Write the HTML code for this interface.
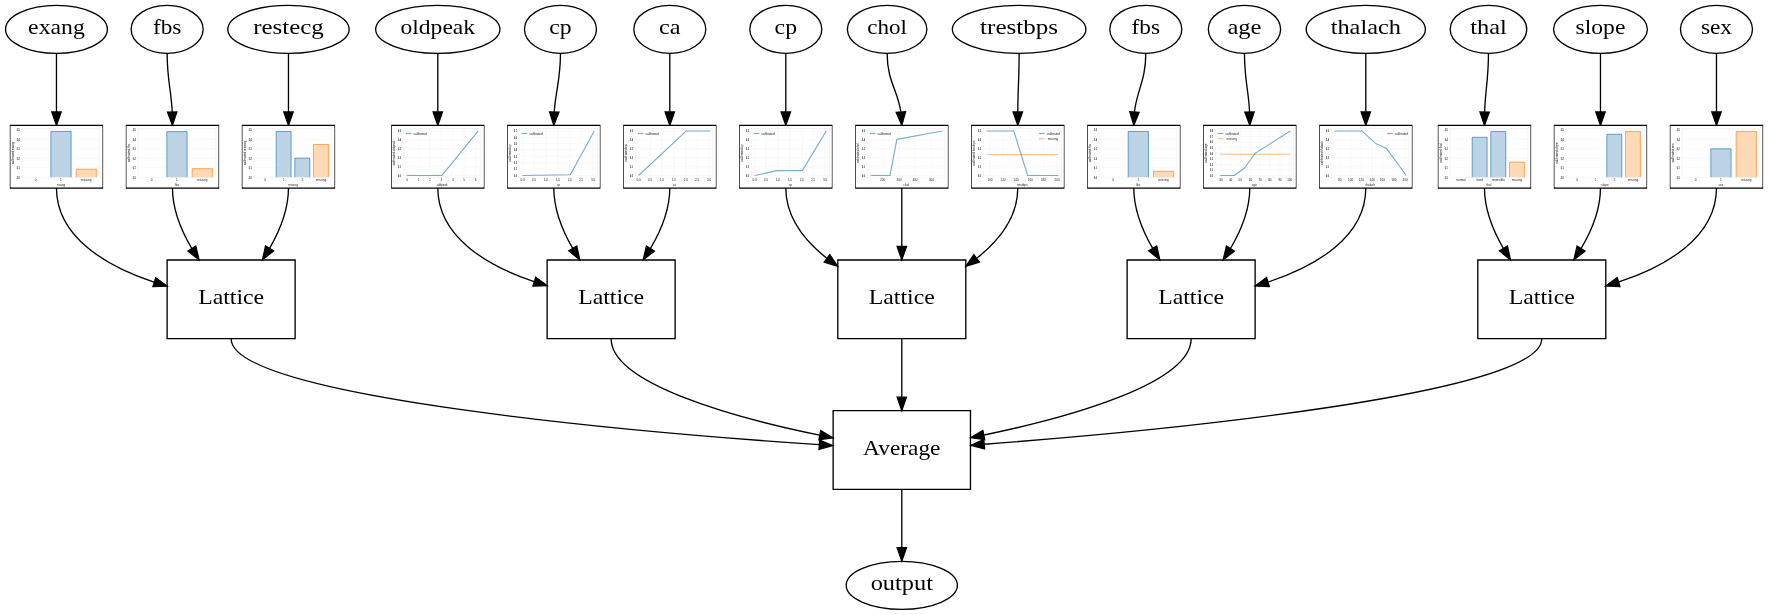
<!DOCTYPE html>
<html><head><meta charset="utf-8"><style>
html,body{margin:0;padding:0;background:#fff;}
body{width:1768px;height:615px;overflow:hidden;}
svg{display:block;will-change:transform;}
.s{fill:none;stroke:#000;stroke-width:1;}
.a{fill:#000;stroke:#000;stroke-width:1;}
g.lbl text{font-family:"Liberation Serif",serif;font-size:15.2px;text-anchor:middle;fill:#000;}
.ct text{font-family:"Liberation Sans",sans-serif;fill:#222;}
</style></head><body>
<svg width="1768" height="615" viewBox="0 0 1326 461.25">
<rect x="0" y="0" width="1326" height="461.25" fill="#fff"/>
<g transform="translate(4 457)">
<g class="lbl"><polygon points="723.85,-149 620.85,-149 620.85,-90 723.85,-90 723.85,-149" class="s"/>
<text x="672.35" y="-115.750" textLength="58.02" lengthAdjust="spacingAndGlyphs">Average</text>
<ellipse cx="672.35" cy="-18" rx="41.69" ry="18" class="s"/>
<text x="672.35" y="-14.500" textLength="46.68" lengthAdjust="spacingAndGlyphs">output</text>
<path d="M672.35,-90C672.35,-75.65 672.35,-59.67 672.35,-46.51" class="s"/>
<polygon points="675.85,-46.22 672.35,-36.22 668.85,-46.22 675.85,-46.22" class="a"/>
<polygon points="217.35,-262 121.35,-262 121.35,-203 217.35,-203 217.35,-262" class="s"/>
<text x="169.35" y="-229.000" textLength="49.50" lengthAdjust="spacingAndGlyphs">Lattice</text>
<path d="M169.35,-203.00C169.35,-158.88 476.12,-132.58 610.38,-123.50" class="s"/>
<polygon points="610.77,-126.99 620.51,-122.83 610.30,-120.00 610.77,-126.99" class="a"/>
<polygon points="502.35,-262 406.35,-262 406.35,-203 502.35,-203 502.35,-262" class="s"/>
<text x="454.35" y="-229.000" textLength="49.50" lengthAdjust="spacingAndGlyphs">Lattice</text>
<path d="M454.35,-203.00C454.35,-169.39 546.13,-143.86 610.59,-130.64" class="s"/>
<polygon points="611.57,-134.01 620.68,-128.62 610.19,-127.15 611.57,-134.01" class="a"/>
<polygon points="720.35,-262 624.35,-262 624.35,-203 720.35,-203 720.35,-262" class="s"/>
<text x="672.35" y="-229.000" textLength="49.50" lengthAdjust="spacingAndGlyphs">Lattice</text>
<path d="M672.35,-203C672.35,-188.73 672.35,-173.08 672.35,-159.28" class="s"/>
<polygon points="675.85,-159.14 672.35,-149.14 668.85,-159.14 675.85,-159.14" class="a"/>
<polygon points="937.35,-262 841.35,-262 841.35,-203 937.35,-203 937.35,-262" class="s"/>
<text x="889.35" y="-229.000" textLength="49.50" lengthAdjust="spacingAndGlyphs">Lattice</text>
<path d="M889.35,-203.00C889.35,-169.57 798.24,-144.03 734.09,-130.75" class="s"/>
<polygon points="734.54,-127.27 724.05,-128.71 733.16,-134.13 734.54,-127.27" class="a"/>
<polygon points="1200.35,-262 1104.35,-262 1104.35,-203 1200.35,-203 1200.35,-262" class="s"/>
<text x="1152.35" y="-229.000" textLength="49.50" lengthAdjust="spacingAndGlyphs">Lattice</text>
<path d="M1152.35,-203.00C1152.35,-161.07 864.11,-133.63 734.36,-123.83" class="s"/>
<polygon points="734.40,-120.33 724.17,-123.07 733.88,-127.31 734.40,-120.33" class="a"/>
<polygon points="72.85,-363 3.85,-363 3.85,-316 72.85,-316 72.85,-363" class="s"/>
<path d="M38.35,-316.00C38.35,-278.90 76.43,-256.98 111.52,-245.43" class="s"/>
<polygon points="112.78,-248.70 121.31,-242.42 110.72,-242.01 112.78,-248.70" class="a"/>
<ellipse cx="38.35" cy="-435" rx="38.19" ry="18" class="s"/>
<text x="38.35" y="-431.500" textLength="42.51" lengthAdjust="spacingAndGlyphs">exang</text>
<path d="M38.35,-417C38.35,-396.75 38.35,-389.31 38.35,-373.07" class="s"/>
<polygon points="41.85,-373 38.35,-363 34.85,-373 41.85,-373" class="a"/>
<polygon points="159.85,-363 90.85,-363 90.85,-316 159.85,-316 159.85,-363" class="s"/>
<path d="M125.35,-316C125.35,-300.02 131.85,-284.13 139.86,-270.63" class="s"/>
<polygon points="142.86,-272.43 145.29,-262.12 136.96,-268.67 142.86,-272.43" class="a"/>
<ellipse cx="121.35" cy="-435" rx="27" ry="18" class="s"/>
<text x="121.35" y="-431.500" textLength="21.33" lengthAdjust="spacingAndGlyphs">fbs</text>
<path d="M121.35,-417C121.35,-396.72 124.48,-389.33 125.15,-373.08" class="s"/>
<polygon points="128.65,-373.07 125.35,-363 121.65,-372.93 128.65,-373.07" class="a"/>
<polygon points="246.85,-363 177.85,-363 177.85,-316 246.85,-316 246.85,-363" class="s"/>
<path d="M212.35,-316C212.35,-300.1 205.99,-284.23 198.16,-270.72" class="s"/>
<polygon points="201.12,-268.84 192.86,-262.2 195.17,-272.54 201.12,-268.84" class="a"/>
<ellipse cx="212.35" cy="-435" rx="45.49" ry="18" class="s"/>
<text x="212.35" y="-431.500" textLength="52.88" lengthAdjust="spacingAndGlyphs">restecg</text>
<path d="M212.35,-417C212.35,-396.75 212.35,-389.31 212.35,-373.07" class="s"/>
<polygon points="215.85,-373 212.35,-363 208.85,-373 215.85,-373" class="a"/>
<polygon points="358.85,-363 289.85,-363 289.85,-316 358.85,-316 358.85,-363" class="s"/>
<path d="M324.35,-316.00C324.35,-279.23 361.89,-257.40 396.62,-245.77" class="s"/>
<polygon points="397.81,-249.07 406.31,-242.74 395.72,-242.39 397.81,-249.07" class="a"/>
<ellipse cx="324.35" cy="-435" rx="46.59" ry="18" class="s"/>
<text x="324.35" y="-431.500" textLength="55.95" lengthAdjust="spacingAndGlyphs">oldpeak</text>
<path d="M324.35,-417C324.35,-396.75 324.35,-389.31 324.35,-373.07" class="s"/>
<polygon points="327.85,-373 324.35,-363 320.85,-373 327.85,-373" class="a"/>
<polygon points="445.85,-363 376.85,-363 376.85,-316 445.85,-316 445.85,-363" class="s"/>
<path d="M411.35,-316C411.35,-300.1 417.7,-284.23 425.53,-270.72" class="s"/>
<polygon points="428.52,-272.54 430.83,-262.2 422.58,-268.84 428.52,-272.54" class="a"/>
<ellipse cx="416.35" cy="-435" rx="27" ry="18" class="s"/>
<text x="416.35" y="-431.500" textLength="16.80" lengthAdjust="spacingAndGlyphs">cp</text>
<path d="M416.35,-417C416.35,-396.66 412.79,-389.36 411.67,-373.1" class="s"/>
<polygon points="415.17,-372.88 411.35,-363 408.17,-373.11 415.17,-372.88" class="a"/>
<polygon points="532.85,-363 463.85,-363 463.85,-316 532.85,-316 532.85,-363" class="s"/>
<path d="M498.35,-316C498.35,-300.02 491.84,-284.13 483.83,-270.63" class="s"/>
<polygon points="486.73,-268.67 478.41,-262.12 480.83,-272.43 486.73,-268.67" class="a"/>
<ellipse cx="498.35" cy="-435" rx="27" ry="18" class="s"/>
<text x="498.35" y="-431.500" textLength="16.19" lengthAdjust="spacingAndGlyphs">ca</text>
<path d="M498.35,-417C498.35,-396.75 498.35,-389.31 498.35,-373.07" class="s"/>
<polygon points="501.85,-373 498.35,-363 494.85,-373 501.85,-373" class="a"/>
<polygon points="619.85,-363 550.85,-363 550.85,-316 619.85,-316 619.85,-363" class="s"/>
<path d="M585.35,-316.00C585.35,-294.71 599.23,-276.72 615.90,-263.44" class="s"/>
<polygon points="618.31,-266.02 624.27,-257.26 614.14,-260.39 618.31,-266.02" class="a"/>
<ellipse cx="585.35" cy="-435" rx="27" ry="18" class="s"/>
<text x="585.35" y="-431.500" textLength="16.80" lengthAdjust="spacingAndGlyphs">cp</text>
<path d="M585.35,-417C585.35,-396.75 585.35,-389.31 585.35,-373.07" class="s"/>
<polygon points="588.85,-373 585.35,-363 581.85,-373 588.85,-373" class="a"/>
<polygon points="706.85,-363 637.85,-363 637.85,-316 706.85,-316 706.85,-363" class="s"/>
<path d="M672.35,-316C672.35,-301.73 672.35,-286.08 672.35,-272.28" class="s"/>
<polygon points="675.85,-272.14 672.35,-262.14 668.85,-272.14 675.85,-272.14" class="a"/>
<ellipse cx="661.35" cy="-435" rx="29.8" ry="18" class="s"/>
<text x="661.35" y="-431.500" textLength="29.76" lengthAdjust="spacingAndGlyphs">chol</text>
<path d="M661.35,-417C661.35,-396.33 669.18,-389.54 671.62,-373.2" class="s"/>
<polygon points="675.13,-373.22 672.35,-363 668.15,-372.73 675.13,-373.22" class="a"/>
<polygon points="793.85,-363 724.85,-363 724.85,-316 793.85,-316 793.85,-363" class="s"/>
<path d="M759.35,-316.00C759.35,-294.71 745.46,-276.72 728.79,-263.44" class="s"/>
<polygon points="730.55,-260.39 720.43,-257.26 726.39,-266.02 730.55,-260.39" class="a"/>
<ellipse cx="760.35" cy="-435" rx="50.09" ry="18" class="s"/>
<text x="760.35" y="-431.500" textLength="58.52" lengthAdjust="spacingAndGlyphs">trestbps</text>
<path d="M760.35,-417.00C760.35,-396.75 759.35,-389.31 759.35,-373.07" class="s"/>
<polygon points="762.85,-373 759.35,-363 755.85,-373 762.85,-373" class="a"/>
<polygon points="880.85,-363 811.85,-363 811.85,-316 880.85,-316 880.85,-363" class="s"/>
<path d="M846.35,-316C846.35,-300.1 852.7,-284.23 860.53,-270.72" class="s"/>
<polygon points="863.52,-272.54 865.83,-262.2 857.58,-268.84 863.52,-272.54" class="a"/>
<ellipse cx="855.35" cy="-435" rx="27" ry="18" class="s"/>
<text x="855.35" y="-431.500" textLength="21.33" lengthAdjust="spacingAndGlyphs">fbs</text>
<path d="M855.35,-417.00C855.35,-396.53 848.65,-389.43 846.87,-373.14" class="s"/>
<polygon points="850.36,-372.81 846.35,-363 843.37,-373.17 850.36,-372.81" class="a"/>
<polygon points="967.85,-363 898.85,-363 898.85,-316 967.85,-316 967.85,-363" class="s"/>
<path d="M933.35,-316C933.35,-300.02 926.84,-284.13 918.83,-270.63" class="s"/>
<polygon points="921.73,-268.67 913.41,-262.12 915.83,-272.43 921.73,-268.67" class="a"/>
<ellipse cx="929.35" cy="-435" rx="27.1" ry="18" class="s"/>
<text x="929.35" y="-431.500" textLength="25.59" lengthAdjust="spacingAndGlyphs">age</text>
<path d="M929.35,-417.00C929.35,-396.72 932.48,-389.33 933.15,-373.08" class="s"/>
<polygon points="936.65,-373.07 933.35,-363 929.65,-372.93 936.65,-373.07" class="a"/>
<polygon points="1054.85,-363 985.85,-363 985.85,-316 1054.85,-316 1054.85,-363" class="s"/>
<path d="M1020.35,-316.00C1020.35,-278.90 982.27,-257.08 947.17,-245.53" class="s"/>
<polygon points="947.97,-242.11 937.38,-242.52 945.91,-248.80 947.97,-242.11" class="a"/>
<ellipse cx="1020.35" cy="-435" rx="44.69" ry="18" class="s"/>
<text x="1020.35" y="-431.500" textLength="52.67" lengthAdjust="spacingAndGlyphs">thalach</text>
<path d="M1020.35,-417C1020.35,-396.75 1020.35,-389.31 1020.35,-373.07" class="s"/>
<polygon points="1023.85,-373 1020.35,-363 1016.85,-373 1023.85,-373" class="a"/>
<polygon points="1143.85,-363 1074.85,-363 1074.85,-316 1143.85,-316 1143.85,-363" class="s"/>
<path d="M1109.35,-316C1109.35,-300.1 1115.7,-284.23 1123.53,-270.72" class="s"/>
<polygon points="1126.52,-272.54 1128.83,-262.2 1120.58,-268.84 1126.52,-272.54" class="a"/>
<ellipse cx="1112.35" cy="-435" rx="28.7" ry="18" class="s"/>
<text x="1112.35" y="-431.500" textLength="27.47" lengthAdjust="spacingAndGlyphs">thal</text>
<path d="M1112.35,-417.00C1112.35,-396.74 1109.92,-389.32 1109.48,-373.07" class="s"/>
<polygon points="1112.98,-372.95 1109.35,-363 1105.98,-373.04 1112.98,-372.95" class="a"/>
<polygon points="1230.85,-363 1161.85,-363 1161.85,-316 1230.85,-316 1230.85,-363" class="s"/>
<path d="M1196.35,-316C1196.35,-300.02 1189.84,-284.13 1181.83,-270.63" class="s"/>
<polygon points="1184.73,-268.67 1176.41,-262.12 1178.83,-272.43 1184.73,-268.67" class="a"/>
<ellipse cx="1196.35" cy="-435" rx="35.19" ry="18" class="s"/>
<text x="1196.35" y="-431.500" textLength="37.34" lengthAdjust="spacingAndGlyphs">slope</text>
<path d="M1196.35,-417C1196.35,-396.75 1196.35,-389.31 1196.35,-373.07" class="s"/>
<polygon points="1199.85,-373 1196.35,-363 1192.85,-373 1199.85,-373" class="a"/>
<polygon points="1317.85,-363 1248.85,-363 1248.85,-316 1317.85,-316 1317.85,-363" class="s"/>
<path d="M1283.35,-316.00C1283.35,-278.90 1245.27,-257.08 1210.17,-245.53" class="s"/>
<polygon points="1210.97,-242.11 1200.38,-242.52 1208.91,-248.80 1210.97,-242.11" class="a"/>
<ellipse cx="1283.35" cy="-435" rx="27" ry="18" class="s"/>
<text x="1283.35" y="-431.500" textLength="23.37" lengthAdjust="spacingAndGlyphs">sex</text>
<path d="M1283.35,-417C1283.35,-396.75 1283.35,-389.31 1283.35,-373.07" class="s"/>
<polygon points="1286.85,-373 1283.35,-363 1279.85,-373 1286.85,-373" class="a"/></g>
<g transform="translate(3.85 -363.00) scale(0.76667)"><g class="ct"><rect x="0.000" y="0.652" width="90.000" height="60.000" fill="#fff"/><rect x="11.30" y="3.10" width="76.20" height="47.70" fill="none" stroke="#f3f3f3" stroke-width="0.8"/><text transform="translate(9.00 52.30) scale(0.062 0.100)" font-size="33.0" text-anchor="end" font-weight="bold">0.0</text><line x1="11.30" x2="87.50" y1="41.50" y2="41.50" stroke="#f6f6f6" stroke-width="0.6"/><text transform="translate(9.00 43.00) scale(0.062 0.100)" font-size="33.0" text-anchor="end" font-weight="bold">0.1</text><line x1="11.30" x2="87.50" y1="32.20" y2="32.20" stroke="#f6f6f6" stroke-width="0.6"/><text transform="translate(9.00 33.70) scale(0.062 0.100)" font-size="33.0" text-anchor="end" font-weight="bold">0.2</text><line x1="11.30" x2="87.50" y1="22.90" y2="22.90" stroke="#f6f6f6" stroke-width="0.6"/><text transform="translate(9.00 24.40) scale(0.062 0.100)" font-size="33.0" text-anchor="end" font-weight="bold">0.3</text><line x1="11.30" x2="87.50" y1="13.60" y2="13.60" stroke="#f6f6f6" stroke-width="0.6"/><text transform="translate(9.00 15.10) scale(0.062 0.100)" font-size="33.0" text-anchor="end" font-weight="bold">0.4</text><line x1="11.30" x2="87.50" y1="4.30" y2="4.30" stroke="#f6f6f6" stroke-width="0.6"/><text transform="translate(9.00 5.80) scale(0.062 0.100)" font-size="33.0" text-anchor="end" font-weight="bold">0.5</text><text transform="translate(24.66 54.80) scale(0.100 0.100)" font-size="30.0" text-anchor="middle">0</text><text transform="translate(49.40 54.80) scale(0.100 0.100)" font-size="30.0" text-anchor="middle">1</text><rect x="39.50" y="5.95" width="19.79" height="44.85" fill="#bdd4e7"/><path d="M39.50,50.80 L39.50,5.95 L59.30,5.95 L59.30,50.80" fill="none" stroke="#1f77b4" stroke-width="0.8" stroke-opacity="0.8"/><text transform="translate(74.14 54.80) scale(0.100 0.100)" font-size="30.0" text-anchor="middle">missing</text><rect x="64.24" y="42.91" width="19.79" height="7.89" fill="#fdd9b6"/><path d="M64.24,50.80 L64.24,42.91 L84.04,42.91 L84.04,50.80" fill="none" stroke="#ff7f0e" stroke-width="0.8" stroke-opacity="0.8"/><text transform="translate(49.40 59.60) scale(0.100 0.100)" font-size="30.0" text-anchor="middle">exang</text><text transform="translate(3.30 27.00) rotate(-90) scale(0.100 0.100)" font-size="30.0" text-anchor="middle">calibrated exang</text></g></g>
<g transform="translate(90.85 -363.00) scale(0.76667)"><g class="ct"><rect x="0.000" y="0.652" width="90.000" height="60.000" fill="#fff"/><rect x="11.30" y="3.10" width="76.20" height="47.70" fill="none" stroke="#f3f3f3" stroke-width="0.8"/><text transform="translate(9.00 52.30) scale(0.062 0.100)" font-size="33.0" text-anchor="end" font-weight="bold">0.0</text><line x1="11.30" x2="87.50" y1="41.50" y2="41.50" stroke="#f6f6f6" stroke-width="0.6"/><text transform="translate(9.00 43.00) scale(0.062 0.100)" font-size="33.0" text-anchor="end" font-weight="bold">0.1</text><line x1="11.30" x2="87.50" y1="32.20" y2="32.20" stroke="#f6f6f6" stroke-width="0.6"/><text transform="translate(9.00 33.70) scale(0.062 0.100)" font-size="33.0" text-anchor="end" font-weight="bold">0.2</text><line x1="11.30" x2="87.50" y1="22.90" y2="22.90" stroke="#f6f6f6" stroke-width="0.6"/><text transform="translate(9.00 24.40) scale(0.062 0.100)" font-size="33.0" text-anchor="end" font-weight="bold">0.3</text><line x1="11.30" x2="87.50" y1="13.60" y2="13.60" stroke="#f6f6f6" stroke-width="0.6"/><text transform="translate(9.00 15.10) scale(0.062 0.100)" font-size="33.0" text-anchor="end" font-weight="bold">0.4</text><line x1="11.30" x2="87.50" y1="4.30" y2="4.30" stroke="#f6f6f6" stroke-width="0.6"/><text transform="translate(9.00 5.80) scale(0.062 0.100)" font-size="33.0" text-anchor="end" font-weight="bold">0.5</text><text transform="translate(24.66 54.80) scale(0.100 0.100)" font-size="30.0" text-anchor="middle">0</text><text transform="translate(49.40 54.80) scale(0.100 0.100)" font-size="30.0" text-anchor="middle">1</text><rect x="39.50" y="6.17" width="19.79" height="44.63" fill="#bdd4e7"/><path d="M39.50,50.80 L39.50,6.17 L59.30,6.17 L59.30,50.80" fill="none" stroke="#1f77b4" stroke-width="0.8" stroke-opacity="0.8"/><text transform="translate(74.14 54.80) scale(0.100 0.100)" font-size="30.0" text-anchor="middle">missing</text><rect x="64.24" y="42.41" width="19.79" height="8.39" fill="#fdd9b6"/><path d="M64.24,50.80 L64.24,42.41 L84.04,42.41 L84.04,50.80" fill="none" stroke="#ff7f0e" stroke-width="0.8" stroke-opacity="0.8"/><text transform="translate(49.40 59.60) scale(0.100 0.100)" font-size="30.0" text-anchor="middle">fbs</text><text transform="translate(3.30 27.00) rotate(-90) scale(0.100 0.100)" font-size="30.0" text-anchor="middle">calibrated fbs</text></g></g>
<g transform="translate(177.85 -363.00) scale(0.76667)"><g class="ct"><rect x="0.000" y="0.652" width="90.000" height="60.000" fill="#fff"/><rect x="11.30" y="3.10" width="76.20" height="47.70" fill="none" stroke="#f3f3f3" stroke-width="0.8"/><text transform="translate(9.00 52.30) scale(0.062 0.100)" font-size="33.0" text-anchor="end" font-weight="bold">0.0</text><line x1="11.30" x2="87.50" y1="41.50" y2="41.50" stroke="#f6f6f6" stroke-width="0.6"/><text transform="translate(9.00 43.00) scale(0.062 0.100)" font-size="33.0" text-anchor="end" font-weight="bold">0.1</text><line x1="11.30" x2="87.50" y1="32.20" y2="32.20" stroke="#f6f6f6" stroke-width="0.6"/><text transform="translate(9.00 33.70) scale(0.062 0.100)" font-size="33.0" text-anchor="end" font-weight="bold">0.2</text><line x1="11.30" x2="87.50" y1="22.90" y2="22.90" stroke="#f6f6f6" stroke-width="0.6"/><text transform="translate(9.00 24.40) scale(0.062 0.100)" font-size="33.0" text-anchor="end" font-weight="bold">0.3</text><line x1="11.30" x2="87.50" y1="13.60" y2="13.60" stroke="#f6f6f6" stroke-width="0.6"/><text transform="translate(9.00 15.10) scale(0.062 0.100)" font-size="33.0" text-anchor="end" font-weight="bold">0.4</text><line x1="11.30" x2="87.50" y1="4.30" y2="4.30" stroke="#f6f6f6" stroke-width="0.6"/><text transform="translate(9.00 5.80) scale(0.062 0.100)" font-size="33.0" text-anchor="end" font-weight="bold">0.5</text><text transform="translate(22.06 54.80) scale(0.100 0.100)" font-size="30.0" text-anchor="middle">0</text><text transform="translate(40.29 54.80) scale(0.100 0.100)" font-size="30.0" text-anchor="middle">1</text><rect x="32.99" y="5.95" width="14.58" height="44.85" fill="#bdd4e7"/><path d="M32.99,50.80 L32.99,5.95 L47.58,5.95 L47.58,50.80" fill="none" stroke="#1f77b4" stroke-width="0.8" stroke-opacity="0.8"/><text transform="translate(58.51 54.80) scale(0.100 0.100)" font-size="30.0" text-anchor="middle">2</text><rect x="51.22" y="32.10" width="14.58" height="18.70" fill="#bdd4e7"/><path d="M51.22,50.80 L51.22,32.10 L65.81,32.10 L65.81,50.80" fill="none" stroke="#1f77b4" stroke-width="0.8" stroke-opacity="0.8"/><text transform="translate(76.74 54.80) scale(0.100 0.100)" font-size="30.0" text-anchor="middle">missing</text><rect x="69.45" y="18.69" width="14.58" height="32.11" fill="#fdd9b6"/><path d="M69.45,50.80 L69.45,18.69 L84.04,18.69 L84.04,50.80" fill="none" stroke="#ff7f0e" stroke-width="0.8" stroke-opacity="0.8"/><text transform="translate(49.40 59.60) scale(0.100 0.100)" font-size="30.0" text-anchor="middle">restecg</text><text transform="translate(3.30 27.00) rotate(-90) scale(0.100 0.100)" font-size="30.0" text-anchor="middle">calibrated restecg</text></g></g>
<g transform="translate(289.85 -363.00) scale(0.76667)"><g class="ct"><rect x="0.000" y="0.652" width="90.000" height="60.000" fill="#fff"/><rect x="11.30" y="3.10" width="76.20" height="47.70" fill="none" stroke="#f3f3f3" stroke-width="0.8"/><line x1="15.00" x2="15.00" y1="3.10" y2="50.80" stroke="#f6f6f6" stroke-width="0.6"/><text transform="translate(15.00 54.80) scale(0.100 0.100)" font-size="30.0" text-anchor="middle">0</text><line x1="26.20" x2="26.20" y1="3.10" y2="50.80" stroke="#f6f6f6" stroke-width="0.6"/><text transform="translate(26.20 54.80) scale(0.100 0.100)" font-size="30.0" text-anchor="middle">1</text><line x1="37.30" x2="37.30" y1="3.10" y2="50.80" stroke="#f6f6f6" stroke-width="0.6"/><text transform="translate(37.30 54.80) scale(0.100 0.100)" font-size="30.0" text-anchor="middle">2</text><line x1="48.40" x2="48.40" y1="3.10" y2="50.80" stroke="#f6f6f6" stroke-width="0.6"/><text transform="translate(48.40 54.80) scale(0.100 0.100)" font-size="30.0" text-anchor="middle">3</text><line x1="59.60" x2="59.60" y1="3.10" y2="50.80" stroke="#f6f6f6" stroke-width="0.6"/><text transform="translate(59.60 54.80) scale(0.100 0.100)" font-size="30.0" text-anchor="middle">4</text><line x1="70.70" x2="70.70" y1="3.10" y2="50.80" stroke="#f6f6f6" stroke-width="0.6"/><text transform="translate(70.70 54.80) scale(0.100 0.100)" font-size="30.0" text-anchor="middle">5</text><line x1="81.85" x2="81.85" y1="3.10" y2="50.80" stroke="#f6f6f6" stroke-width="0.6"/><text transform="translate(81.85 54.80) scale(0.100 0.100)" font-size="30.0" text-anchor="middle">6</text><line x1="11.30" x2="87.50" y1="49.10" y2="49.10" stroke="#f6f6f6" stroke-width="0.6"/><text transform="translate(9.00 50.40) scale(0.062 0.100)" font-size="33.0" text-anchor="end" font-weight="bold">0.0</text><line x1="11.30" x2="87.50" y1="40.38" y2="40.38" stroke="#f6f6f6" stroke-width="0.6"/><text transform="translate(9.00 41.68) scale(0.062 0.100)" font-size="33.0" text-anchor="end" font-weight="bold">0.1</text><line x1="11.30" x2="87.50" y1="31.66" y2="31.66" stroke="#f6f6f6" stroke-width="0.6"/><text transform="translate(9.00 32.96) scale(0.062 0.100)" font-size="33.0" text-anchor="end" font-weight="bold">0.2</text><line x1="11.30" x2="87.50" y1="22.94" y2="22.94" stroke="#f6f6f6" stroke-width="0.6"/><text transform="translate(9.00 24.24) scale(0.062 0.100)" font-size="33.0" text-anchor="end" font-weight="bold">0.3</text><line x1="11.30" x2="87.50" y1="14.22" y2="14.22" stroke="#f6f6f6" stroke-width="0.6"/><text transform="translate(9.00 15.52) scale(0.062 0.100)" font-size="33.0" text-anchor="end" font-weight="bold">0.4</text><line x1="11.30" x2="87.50" y1="5.50" y2="5.50" stroke="#f6f6f6" stroke-width="0.6"/><text transform="translate(9.00 6.80) scale(0.062 0.100)" font-size="33.0" text-anchor="end" font-weight="bold">0.5</text><path d="M14.50,49.10 L48.85,49.10 L84.60,5.50" fill="none" stroke="#1f77b4" stroke-width="1.1" stroke-opacity="0.6" stroke-linejoin="round"/><line x1="13.60" x2="19.20" y1="8.0" y2="8.0" stroke="#1f77b4" stroke-width="1.1" stroke-opacity="0.6"/><text transform="translate(21.20 9.00) scale(0.100 0.100)" font-size="30.0" text-anchor="start">calibrated</text><text transform="translate(49.40 59.60) scale(0.100 0.100)" font-size="30.0" text-anchor="middle">oldpeak</text><text transform="translate(3.30 27.00) rotate(-90) scale(0.100 0.100)" font-size="30.0" text-anchor="middle">calibrated oldpeak</text></g></g>
<g transform="translate(376.85 -363.00) scale(0.76667)"><g class="ct"><rect x="0.000" y="0.652" width="90.000" height="60.000" fill="#fff"/><rect x="11.30" y="3.10" width="76.20" height="47.70" fill="none" stroke="#f3f3f3" stroke-width="0.8"/><line x1="14.50" x2="14.50" y1="3.10" y2="50.80" stroke="#f6f6f6" stroke-width="0.6"/><text transform="translate(14.50 54.80) scale(0.100 0.100)" font-size="30.0" text-anchor="middle">0.0</text><line x1="25.80" x2="25.80" y1="3.10" y2="50.80" stroke="#f6f6f6" stroke-width="0.6"/><text transform="translate(25.80 54.80) scale(0.100 0.100)" font-size="30.0" text-anchor="middle">0.5</text><line x1="37.30" x2="37.30" y1="3.10" y2="50.80" stroke="#f6f6f6" stroke-width="0.6"/><text transform="translate(37.30 54.80) scale(0.100 0.100)" font-size="30.0" text-anchor="middle">1.0</text><line x1="49.00" x2="49.00" y1="3.10" y2="50.80" stroke="#f6f6f6" stroke-width="0.6"/><text transform="translate(49.00 54.80) scale(0.100 0.100)" font-size="30.0" text-anchor="middle">1.5</text><line x1="60.70" x2="60.70" y1="3.10" y2="50.80" stroke="#f6f6f6" stroke-width="0.6"/><text transform="translate(60.70 54.80) scale(0.100 0.100)" font-size="30.0" text-anchor="middle">2.0</text><line x1="71.80" x2="71.80" y1="3.10" y2="50.80" stroke="#f6f6f6" stroke-width="0.6"/><text transform="translate(71.80 54.80) scale(0.100 0.100)" font-size="30.0" text-anchor="middle">2.5</text><line x1="83.50" x2="83.50" y1="3.10" y2="50.80" stroke="#f6f6f6" stroke-width="0.6"/><text transform="translate(83.50 54.80) scale(0.100 0.100)" font-size="30.0" text-anchor="middle">3.0</text><line x1="11.30" x2="87.50" y1="49.10" y2="49.10" stroke="#f6f6f6" stroke-width="0.6"/><text transform="translate(9.00 50.40) scale(0.062 0.100)" font-size="33.0" text-anchor="end" font-weight="bold">0.0</text><line x1="11.30" x2="87.50" y1="42.87" y2="42.87" stroke="#f6f6f6" stroke-width="0.6"/><text transform="translate(9.00 44.17) scale(0.062 0.100)" font-size="33.0" text-anchor="end" font-weight="bold">0.1</text><line x1="11.30" x2="87.50" y1="36.64" y2="36.64" stroke="#f6f6f6" stroke-width="0.6"/><text transform="translate(9.00 37.94) scale(0.062 0.100)" font-size="33.0" text-anchor="end" font-weight="bold">0.2</text><line x1="11.30" x2="87.50" y1="30.41" y2="30.41" stroke="#f6f6f6" stroke-width="0.6"/><text transform="translate(9.00 31.71) scale(0.062 0.100)" font-size="33.0" text-anchor="end" font-weight="bold">0.3</text><line x1="11.30" x2="87.50" y1="24.19" y2="24.19" stroke="#f6f6f6" stroke-width="0.6"/><text transform="translate(9.00 25.49) scale(0.062 0.100)" font-size="33.0" text-anchor="end" font-weight="bold">0.4</text><line x1="11.30" x2="87.50" y1="17.96" y2="17.96" stroke="#f6f6f6" stroke-width="0.6"/><text transform="translate(9.00 19.26) scale(0.062 0.100)" font-size="33.0" text-anchor="end" font-weight="bold">0.5</text><line x1="11.30" x2="87.50" y1="11.73" y2="11.73" stroke="#f6f6f6" stroke-width="0.6"/><text transform="translate(9.00 13.03) scale(0.062 0.100)" font-size="33.0" text-anchor="end" font-weight="bold">0.6</text><line x1="11.30" x2="87.50" y1="5.50" y2="5.50" stroke="#f6f6f6" stroke-width="0.6"/><text transform="translate(9.00 6.80) scale(0.062 0.100)" font-size="33.0" text-anchor="end" font-weight="bold">0.7</text><path d="M14.50,49.10 L61.12,48.40 L84.60,5.50" fill="none" stroke="#1f77b4" stroke-width="1.1" stroke-opacity="0.6" stroke-linejoin="round"/><line x1="13.60" x2="19.20" y1="8.0" y2="8.0" stroke="#1f77b4" stroke-width="1.1" stroke-opacity="0.6"/><text transform="translate(21.20 9.00) scale(0.100 0.100)" font-size="30.0" text-anchor="start">calibrated</text><text transform="translate(49.40 59.60) scale(0.100 0.100)" font-size="30.0" text-anchor="middle">cp</text><text transform="translate(3.30 27.00) rotate(-90) scale(0.100 0.100)" font-size="30.0" text-anchor="middle">calibrated cp</text></g></g>
<g transform="translate(463.85 -363.00) scale(0.76667)"><g class="ct"><rect x="0.000" y="0.652" width="90.000" height="60.000" fill="#fff"/><rect x="11.30" y="3.10" width="76.20" height="47.70" fill="none" stroke="#f3f3f3" stroke-width="0.8"/><line x1="14.50" x2="14.50" y1="3.10" y2="50.80" stroke="#f6f6f6" stroke-width="0.6"/><text transform="translate(14.50 54.80) scale(0.100 0.100)" font-size="30.0" text-anchor="middle">0.0</text><line x1="25.80" x2="25.80" y1="3.10" y2="50.80" stroke="#f6f6f6" stroke-width="0.6"/><text transform="translate(25.80 54.80) scale(0.100 0.100)" font-size="30.0" text-anchor="middle">0.5</text><line x1="37.30" x2="37.30" y1="3.10" y2="50.80" stroke="#f6f6f6" stroke-width="0.6"/><text transform="translate(37.30 54.80) scale(0.100 0.100)" font-size="30.0" text-anchor="middle">1.0</text><line x1="49.00" x2="49.00" y1="3.10" y2="50.80" stroke="#f6f6f6" stroke-width="0.6"/><text transform="translate(49.00 54.80) scale(0.100 0.100)" font-size="30.0" text-anchor="middle">1.5</text><line x1="60.70" x2="60.70" y1="3.10" y2="50.80" stroke="#f6f6f6" stroke-width="0.6"/><text transform="translate(60.70 54.80) scale(0.100 0.100)" font-size="30.0" text-anchor="middle">2.0</text><line x1="71.80" x2="71.80" y1="3.10" y2="50.80" stroke="#f6f6f6" stroke-width="0.6"/><text transform="translate(71.80 54.80) scale(0.100 0.100)" font-size="30.0" text-anchor="middle">2.5</text><line x1="83.50" x2="83.50" y1="3.10" y2="50.80" stroke="#f6f6f6" stroke-width="0.6"/><text transform="translate(83.50 54.80) scale(0.100 0.100)" font-size="30.0" text-anchor="middle">3.0</text><line x1="11.30" x2="87.50" y1="49.10" y2="49.10" stroke="#f6f6f6" stroke-width="0.6"/><text transform="translate(9.00 50.40) scale(0.062 0.100)" font-size="33.0" text-anchor="end" font-weight="bold">0.0</text><line x1="11.30" x2="87.50" y1="40.38" y2="40.38" stroke="#f6f6f6" stroke-width="0.6"/><text transform="translate(9.00 41.68) scale(0.062 0.100)" font-size="33.0" text-anchor="end" font-weight="bold">0.1</text><line x1="11.30" x2="87.50" y1="31.66" y2="31.66" stroke="#f6f6f6" stroke-width="0.6"/><text transform="translate(9.00 32.96) scale(0.062 0.100)" font-size="33.0" text-anchor="end" font-weight="bold">0.2</text><line x1="11.30" x2="87.50" y1="22.94" y2="22.94" stroke="#f6f6f6" stroke-width="0.6"/><text transform="translate(9.00 24.24) scale(0.062 0.100)" font-size="33.0" text-anchor="end" font-weight="bold">0.3</text><line x1="11.30" x2="87.50" y1="14.22" y2="14.22" stroke="#f6f6f6" stroke-width="0.6"/><text transform="translate(9.00 15.52) scale(0.062 0.100)" font-size="33.0" text-anchor="end" font-weight="bold">0.4</text><line x1="11.30" x2="87.50" y1="5.50" y2="5.50" stroke="#f6f6f6" stroke-width="0.6"/><text transform="translate(9.00 6.80) scale(0.062 0.100)" font-size="33.0" text-anchor="end" font-weight="bold">0.5</text><path d="M14.50,49.10 L61.19,5.50 L84.60,5.50" fill="none" stroke="#1f77b4" stroke-width="1.1" stroke-opacity="0.6" stroke-linejoin="round"/><line x1="13.60" x2="19.20" y1="8.0" y2="8.0" stroke="#1f77b4" stroke-width="1.1" stroke-opacity="0.6"/><text transform="translate(21.20 9.00) scale(0.100 0.100)" font-size="30.0" text-anchor="start">calibrated</text><text transform="translate(49.40 59.60) scale(0.100 0.100)" font-size="30.0" text-anchor="middle">ca</text><text transform="translate(3.30 27.00) rotate(-90) scale(0.100 0.100)" font-size="30.0" text-anchor="middle">calibrated ca</text></g></g>
<g transform="translate(550.85 -363.00) scale(0.76667)"><g class="ct"><rect x="0.000" y="0.652" width="90.000" height="60.000" fill="#fff"/><rect x="11.30" y="3.10" width="76.20" height="47.70" fill="none" stroke="#f3f3f3" stroke-width="0.8"/><line x1="14.50" x2="14.50" y1="3.10" y2="50.80" stroke="#f6f6f6" stroke-width="0.6"/><text transform="translate(14.50 54.80) scale(0.100 0.100)" font-size="30.0" text-anchor="middle">0.0</text><line x1="25.80" x2="25.80" y1="3.10" y2="50.80" stroke="#f6f6f6" stroke-width="0.6"/><text transform="translate(25.80 54.80) scale(0.100 0.100)" font-size="30.0" text-anchor="middle">0.5</text><line x1="37.30" x2="37.30" y1="3.10" y2="50.80" stroke="#f6f6f6" stroke-width="0.6"/><text transform="translate(37.30 54.80) scale(0.100 0.100)" font-size="30.0" text-anchor="middle">1.0</text><line x1="49.00" x2="49.00" y1="3.10" y2="50.80" stroke="#f6f6f6" stroke-width="0.6"/><text transform="translate(49.00 54.80) scale(0.100 0.100)" font-size="30.0" text-anchor="middle">1.5</text><line x1="60.70" x2="60.70" y1="3.10" y2="50.80" stroke="#f6f6f6" stroke-width="0.6"/><text transform="translate(60.70 54.80) scale(0.100 0.100)" font-size="30.0" text-anchor="middle">2.0</text><line x1="71.80" x2="71.80" y1="3.10" y2="50.80" stroke="#f6f6f6" stroke-width="0.6"/><text transform="translate(71.80 54.80) scale(0.100 0.100)" font-size="30.0" text-anchor="middle">2.5</text><line x1="83.50" x2="83.50" y1="3.10" y2="50.80" stroke="#f6f6f6" stroke-width="0.6"/><text transform="translate(83.50 54.80) scale(0.100 0.100)" font-size="30.0" text-anchor="middle">3.0</text><line x1="11.30" x2="87.50" y1="49.10" y2="49.10" stroke="#f6f6f6" stroke-width="0.6"/><text transform="translate(9.00 50.40) scale(0.062 0.100)" font-size="33.0" text-anchor="end" font-weight="bold">0.0</text><line x1="11.30" x2="87.50" y1="40.38" y2="40.38" stroke="#f6f6f6" stroke-width="0.6"/><text transform="translate(9.00 41.68) scale(0.062 0.100)" font-size="33.0" text-anchor="end" font-weight="bold">0.1</text><line x1="11.30" x2="87.50" y1="31.66" y2="31.66" stroke="#f6f6f6" stroke-width="0.6"/><text transform="translate(9.00 32.96) scale(0.062 0.100)" font-size="33.0" text-anchor="end" font-weight="bold">0.2</text><line x1="11.30" x2="87.50" y1="22.94" y2="22.94" stroke="#f6f6f6" stroke-width="0.6"/><text transform="translate(9.00 24.24) scale(0.062 0.100)" font-size="33.0" text-anchor="end" font-weight="bold">0.3</text><line x1="11.30" x2="87.50" y1="14.22" y2="14.22" stroke="#f6f6f6" stroke-width="0.6"/><text transform="translate(9.00 15.52) scale(0.062 0.100)" font-size="33.0" text-anchor="end" font-weight="bold">0.4</text><line x1="11.30" x2="87.50" y1="5.50" y2="5.50" stroke="#f6f6f6" stroke-width="0.6"/><text transform="translate(9.00 6.80) scale(0.062 0.100)" font-size="33.0" text-anchor="end" font-weight="bold">0.5</text><path d="M14.50,49.10 L36.79,44.30 L61.19,44.30 L84.60,5.50" fill="none" stroke="#1f77b4" stroke-width="1.1" stroke-opacity="0.6" stroke-linejoin="round"/><line x1="13.60" x2="19.20" y1="8.0" y2="8.0" stroke="#1f77b4" stroke-width="1.1" stroke-opacity="0.6"/><text transform="translate(21.20 9.00) scale(0.100 0.100)" font-size="30.0" text-anchor="start">calibrated</text><text transform="translate(49.40 59.60) scale(0.100 0.100)" font-size="30.0" text-anchor="middle">cp</text><text transform="translate(3.30 27.00) rotate(-90) scale(0.100 0.100)" font-size="30.0" text-anchor="middle">calibrated cp</text></g></g>
<g transform="translate(637.85 -363.00) scale(0.76667)"><g class="ct"><rect x="0.000" y="0.652" width="90.000" height="60.000" fill="#fff"/><rect x="11.30" y="3.10" width="76.20" height="47.70" fill="none" stroke="#f3f3f3" stroke-width="0.8"/><line x1="26.20" x2="26.20" y1="3.10" y2="50.80" stroke="#f6f6f6" stroke-width="0.6"/><text transform="translate(26.20 54.80) scale(0.100 0.100)" font-size="30.0" text-anchor="middle">200</text><line x1="42.30" x2="42.30" y1="3.10" y2="50.80" stroke="#f6f6f6" stroke-width="0.6"/><text transform="translate(42.30 54.80) scale(0.100 0.100)" font-size="30.0" text-anchor="middle">300</text><line x1="57.90" x2="57.90" y1="3.10" y2="50.80" stroke="#f6f6f6" stroke-width="0.6"/><text transform="translate(57.90 54.80) scale(0.100 0.100)" font-size="30.0" text-anchor="middle">400</text><line x1="74.00" x2="74.00" y1="3.10" y2="50.80" stroke="#f6f6f6" stroke-width="0.6"/><text transform="translate(74.00 54.80) scale(0.100 0.100)" font-size="30.0" text-anchor="middle">500</text><line x1="11.30" x2="87.50" y1="49.10" y2="49.10" stroke="#f6f6f6" stroke-width="0.6"/><text transform="translate(9.00 50.40) scale(0.062 0.100)" font-size="33.0" text-anchor="end" font-weight="bold">0.0</text><line x1="11.30" x2="87.50" y1="40.38" y2="40.38" stroke="#f6f6f6" stroke-width="0.6"/><text transform="translate(9.00 41.68) scale(0.062 0.100)" font-size="33.0" text-anchor="end" font-weight="bold">0.1</text><line x1="11.30" x2="87.50" y1="31.66" y2="31.66" stroke="#f6f6f6" stroke-width="0.6"/><text transform="translate(9.00 32.96) scale(0.062 0.100)" font-size="33.0" text-anchor="end" font-weight="bold">0.2</text><line x1="11.30" x2="87.50" y1="22.94" y2="22.94" stroke="#f6f6f6" stroke-width="0.6"/><text transform="translate(9.00 24.24) scale(0.062 0.100)" font-size="33.0" text-anchor="end" font-weight="bold">0.3</text><line x1="11.30" x2="87.50" y1="14.22" y2="14.22" stroke="#f6f6f6" stroke-width="0.6"/><text transform="translate(9.00 15.52) scale(0.062 0.100)" font-size="33.0" text-anchor="end" font-weight="bold">0.4</text><line x1="11.30" x2="87.50" y1="5.50" y2="5.50" stroke="#f6f6f6" stroke-width="0.6"/><text transform="translate(9.00 6.80) scale(0.062 0.100)" font-size="33.0" text-anchor="end" font-weight="bold">0.5</text><path d="M14.50,49.10 L33.43,49.10 L40.16,13.78 L84.60,5.50" fill="none" stroke="#1f77b4" stroke-width="1.1" stroke-opacity="0.6" stroke-linejoin="round"/><line x1="13.60" x2="19.20" y1="8.0" y2="8.0" stroke="#1f77b4" stroke-width="1.1" stroke-opacity="0.6"/><text transform="translate(21.20 9.00) scale(0.100 0.100)" font-size="30.0" text-anchor="start">calibrated</text><text transform="translate(49.40 59.60) scale(0.100 0.100)" font-size="30.0" text-anchor="middle">chol</text><text transform="translate(3.30 27.00) rotate(-90) scale(0.100 0.100)" font-size="30.0" text-anchor="middle">calibrated chol</text></g></g>
<g transform="translate(724.85 -363.00) scale(0.76667)"><g class="ct"><rect x="0.000" y="0.652" width="90.000" height="60.000" fill="#fff"/><rect x="11.30" y="3.10" width="76.20" height="47.70" fill="none" stroke="#f3f3f3" stroke-width="0.8"/><line x1="17.80" x2="17.80" y1="3.10" y2="50.80" stroke="#f6f6f6" stroke-width="0.6"/><text transform="translate(17.80 54.80) scale(0.100 0.100)" font-size="30.0" text-anchor="middle">100</text><line x1="30.60" x2="30.60" y1="3.10" y2="50.80" stroke="#f6f6f6" stroke-width="0.6"/><text transform="translate(30.60 54.80) scale(0.100 0.100)" font-size="30.0" text-anchor="middle">120</text><line x1="43.40" x2="43.40" y1="3.10" y2="50.80" stroke="#f6f6f6" stroke-width="0.6"/><text transform="translate(43.40 54.80) scale(0.100 0.100)" font-size="30.0" text-anchor="middle">140</text><line x1="57.30" x2="57.30" y1="3.10" y2="50.80" stroke="#f6f6f6" stroke-width="0.6"/><text transform="translate(57.30 54.80) scale(0.100 0.100)" font-size="30.0" text-anchor="middle">160</text><line x1="70.10" x2="70.10" y1="3.10" y2="50.80" stroke="#f6f6f6" stroke-width="0.6"/><text transform="translate(70.10 54.80) scale(0.100 0.100)" font-size="30.0" text-anchor="middle">180</text><line x1="83.50" x2="83.50" y1="3.10" y2="50.80" stroke="#f6f6f6" stroke-width="0.6"/><text transform="translate(83.50 54.80) scale(0.100 0.100)" font-size="30.0" text-anchor="middle">200</text><line x1="11.30" x2="87.50" y1="49.10" y2="49.10" stroke="#f6f6f6" stroke-width="0.6"/><text transform="translate(9.00 50.40) scale(0.062 0.100)" font-size="33.0" text-anchor="end" font-weight="bold">0.0</text><line x1="11.30" x2="87.50" y1="40.38" y2="40.38" stroke="#f6f6f6" stroke-width="0.6"/><text transform="translate(9.00 41.68) scale(0.062 0.100)" font-size="33.0" text-anchor="end" font-weight="bold">0.1</text><line x1="11.30" x2="87.50" y1="31.66" y2="31.66" stroke="#f6f6f6" stroke-width="0.6"/><text transform="translate(9.00 32.96) scale(0.062 0.100)" font-size="33.0" text-anchor="end" font-weight="bold">0.2</text><line x1="11.30" x2="87.50" y1="22.94" y2="22.94" stroke="#f6f6f6" stroke-width="0.6"/><text transform="translate(9.00 24.24) scale(0.062 0.100)" font-size="33.0" text-anchor="end" font-weight="bold">0.3</text><line x1="11.30" x2="87.50" y1="14.22" y2="14.22" stroke="#f6f6f6" stroke-width="0.6"/><text transform="translate(9.00 15.52) scale(0.062 0.100)" font-size="33.0" text-anchor="end" font-weight="bold">0.4</text><line x1="11.30" x2="87.50" y1="5.50" y2="5.50" stroke="#f6f6f6" stroke-width="0.6"/><text transform="translate(9.00 6.80) scale(0.062 0.100)" font-size="33.0" text-anchor="end" font-weight="bold">0.5</text><line x1="14.50" x2="84.60" y1="28.48" y2="28.48" stroke="#ff7f0e" stroke-width="1.1" stroke-opacity="0.5"/><path d="M14.50,5.50 L41.07,5.50 L54.67,49.10 L84.60,49.10" fill="none" stroke="#1f77b4" stroke-width="1.1" stroke-opacity="0.6" stroke-linejoin="round"/><line x1="65.70" x2="71.30" y1="8.0" y2="8.0" stroke="#1f77b4" stroke-width="1.1" stroke-opacity="0.6"/><text transform="translate(73.30 9.00) scale(0.100 0.100)" font-size="30.0" text-anchor="start">calibrated</text><line x1="65.70" x2="71.30" y1="13.1" y2="13.1" stroke="#ff7f0e" stroke-width="1.1" stroke-opacity="0.5"/><text transform="translate(74.30 14.10) scale(0.100 0.100)" font-size="30.0" text-anchor="start">missing</text><text transform="translate(49.40 59.60) scale(0.100 0.100)" font-size="30.0" text-anchor="middle">trestbps</text><text transform="translate(3.30 27.00) rotate(-90) scale(0.100 0.100)" font-size="30.0" text-anchor="middle">calibrated trestbps</text></g></g>
<g transform="translate(811.85 -363.00) scale(0.76667)"><g class="ct"><rect x="0.000" y="0.652" width="90.000" height="60.000" fill="#fff"/><rect x="11.30" y="3.10" width="76.20" height="47.70" fill="none" stroke="#f3f3f3" stroke-width="0.8"/><text transform="translate(9.00 52.30) scale(0.062 0.100)" font-size="33.0" text-anchor="end" font-weight="bold">0.0</text><line x1="11.30" x2="87.50" y1="41.50" y2="41.50" stroke="#f6f6f6" stroke-width="0.6"/><text transform="translate(9.00 43.00) scale(0.062 0.100)" font-size="33.0" text-anchor="end" font-weight="bold">0.1</text><line x1="11.30" x2="87.50" y1="32.20" y2="32.20" stroke="#f6f6f6" stroke-width="0.6"/><text transform="translate(9.00 33.70) scale(0.062 0.100)" font-size="33.0" text-anchor="end" font-weight="bold">0.2</text><line x1="11.30" x2="87.50" y1="22.90" y2="22.90" stroke="#f6f6f6" stroke-width="0.6"/><text transform="translate(9.00 24.40) scale(0.062 0.100)" font-size="33.0" text-anchor="end" font-weight="bold">0.3</text><line x1="11.30" x2="87.50" y1="13.60" y2="13.60" stroke="#f6f6f6" stroke-width="0.6"/><text transform="translate(9.00 15.10) scale(0.062 0.100)" font-size="33.0" text-anchor="end" font-weight="bold">0.4</text><line x1="11.30" x2="87.50" y1="4.30" y2="4.30" stroke="#f6f6f6" stroke-width="0.6"/><text transform="translate(9.00 5.80) scale(0.062 0.100)" font-size="33.0" text-anchor="end" font-weight="bold">0.5</text><text transform="translate(24.66 54.80) scale(0.100 0.100)" font-size="30.0" text-anchor="middle">0</text><text transform="translate(49.40 54.80) scale(0.100 0.100)" font-size="30.0" text-anchor="middle">1</text><rect x="39.50" y="5.95" width="19.79" height="44.85" fill="#bdd4e7"/><path d="M39.50,50.80 L39.50,5.95 L59.30,5.95 L59.30,50.80" fill="none" stroke="#1f77b4" stroke-width="0.8" stroke-opacity="0.8"/><text transform="translate(74.14 54.80) scale(0.100 0.100)" font-size="30.0" text-anchor="middle">missing</text><rect x="64.24" y="44.92" width="19.79" height="5.88" fill="#fdd9b6"/><path d="M64.24,50.80 L64.24,44.92 L84.04,44.92 L84.04,50.80" fill="none" stroke="#ff7f0e" stroke-width="0.8" stroke-opacity="0.8"/><text transform="translate(49.40 59.60) scale(0.100 0.100)" font-size="30.0" text-anchor="middle">fbs</text><text transform="translate(3.30 27.00) rotate(-90) scale(0.100 0.100)" font-size="30.0" text-anchor="middle">calibrated fbs</text></g></g>
<g transform="translate(898.85 -363.00) scale(0.76667)"><g class="ct"><rect x="0.000" y="0.652" width="90.000" height="60.000" fill="#fff"/><rect x="11.30" y="3.10" width="76.20" height="47.70" fill="none" stroke="#f3f3f3" stroke-width="0.8"/><line x1="16.70" x2="16.70" y1="3.10" y2="50.80" stroke="#f6f6f6" stroke-width="0.6"/><text transform="translate(16.70 54.80) scale(0.100 0.100)" font-size="30.0" text-anchor="middle">30</text><line x1="26.20" x2="26.20" y1="3.10" y2="50.80" stroke="#f6f6f6" stroke-width="0.6"/><text transform="translate(26.20 54.80) scale(0.100 0.100)" font-size="30.0" text-anchor="middle">40</text><line x1="35.70" x2="35.70" y1="3.10" y2="50.80" stroke="#f6f6f6" stroke-width="0.6"/><text transform="translate(35.70 54.80) scale(0.100 0.100)" font-size="30.0" text-anchor="middle">50</text><line x1="45.70" x2="45.70" y1="3.10" y2="50.80" stroke="#f6f6f6" stroke-width="0.6"/><text transform="translate(45.70 54.80) scale(0.100 0.100)" font-size="30.0" text-anchor="middle">60</text><line x1="55.10" x2="55.10" y1="3.10" y2="50.80" stroke="#f6f6f6" stroke-width="0.6"/><text transform="translate(55.10 54.80) scale(0.100 0.100)" font-size="30.0" text-anchor="middle">70</text><line x1="64.60" x2="64.60" y1="3.10" y2="50.80" stroke="#f6f6f6" stroke-width="0.6"/><text transform="translate(64.60 54.80) scale(0.100 0.100)" font-size="30.0" text-anchor="middle">80</text><line x1="74.60" x2="74.60" y1="3.10" y2="50.80" stroke="#f6f6f6" stroke-width="0.6"/><text transform="translate(74.60 54.80) scale(0.100 0.100)" font-size="30.0" text-anchor="middle">90</text><line x1="84.10" x2="84.10" y1="3.10" y2="50.80" stroke="#f6f6f6" stroke-width="0.6"/><text transform="translate(84.10 54.80) scale(0.100 0.100)" font-size="30.0" text-anchor="middle">100</text><line x1="11.30" x2="87.50" y1="49.10" y2="49.10" stroke="#f6f6f6" stroke-width="0.6"/><text transform="translate(9.00 50.40) scale(0.062 0.100)" font-size="33.0" text-anchor="end" font-weight="bold">0.0</text><line x1="11.30" x2="87.50" y1="43.65" y2="43.65" stroke="#f6f6f6" stroke-width="0.6"/><text transform="translate(9.00 44.95) scale(0.062 0.100)" font-size="33.0" text-anchor="end" font-weight="bold">0.1</text><line x1="11.30" x2="87.50" y1="38.20" y2="38.20" stroke="#f6f6f6" stroke-width="0.6"/><text transform="translate(9.00 39.50) scale(0.062 0.100)" font-size="33.0" text-anchor="end" font-weight="bold">0.2</text><line x1="11.30" x2="87.50" y1="32.75" y2="32.75" stroke="#f6f6f6" stroke-width="0.6"/><text transform="translate(9.00 34.05) scale(0.062 0.100)" font-size="33.0" text-anchor="end" font-weight="bold">0.3</text><line x1="11.30" x2="87.50" y1="27.30" y2="27.30" stroke="#f6f6f6" stroke-width="0.6"/><text transform="translate(9.00 28.60) scale(0.062 0.100)" font-size="33.0" text-anchor="end" font-weight="bold">0.4</text><line x1="11.30" x2="87.50" y1="21.85" y2="21.85" stroke="#f6f6f6" stroke-width="0.6"/><text transform="translate(9.00 23.15) scale(0.062 0.100)" font-size="33.0" text-anchor="end" font-weight="bold">0.5</text><line x1="11.30" x2="87.50" y1="16.40" y2="16.40" stroke="#f6f6f6" stroke-width="0.6"/><text transform="translate(9.00 17.70) scale(0.062 0.100)" font-size="33.0" text-anchor="end" font-weight="bold">0.6</text><line x1="11.30" x2="87.50" y1="10.95" y2="10.95" stroke="#f6f6f6" stroke-width="0.6"/><text transform="translate(9.00 12.25) scale(0.062 0.100)" font-size="33.0" text-anchor="end" font-weight="bold">0.7</text><line x1="11.30" x2="87.50" y1="5.50" y2="5.50" stroke="#f6f6f6" stroke-width="0.6"/><text transform="translate(9.00 6.80) scale(0.062 0.100)" font-size="33.0" text-anchor="end" font-weight="bold">0.8</text><line x1="16.10" x2="84.60" y1="28.30" y2="28.30" stroke="#ff7f0e" stroke-width="1.1" stroke-opacity="0.5"/><path d="M16.10,49.10 L29.80,49.10 L40.08,41.51 L50.08,27.52 L52.41,25.99 L84.60,5.50" fill="none" stroke="#1f77b4" stroke-width="1.1" stroke-opacity="0.6" stroke-linejoin="round"/><line x1="13.60" x2="19.20" y1="8.0" y2="8.0" stroke="#1f77b4" stroke-width="1.1" stroke-opacity="0.6"/><text transform="translate(21.20 9.00) scale(0.100 0.100)" font-size="30.0" text-anchor="start">calibrated</text><line x1="13.60" x2="19.20" y1="13.1" y2="13.1" stroke="#ff7f0e" stroke-width="1.1" stroke-opacity="0.5"/><text transform="translate(22.20 14.10) scale(0.100 0.100)" font-size="30.0" text-anchor="start">missing</text><text transform="translate(49.40 59.60) scale(0.100 0.100)" font-size="30.0" text-anchor="middle">age</text><text transform="translate(3.30 27.00) rotate(-90) scale(0.100 0.100)" font-size="30.0" text-anchor="middle">calibrated age</text></g></g>
<g transform="translate(985.85 -363.00) scale(0.76667)"><g class="ct"><rect x="0.000" y="0.652" width="90.000" height="60.000" fill="#fff"/><rect x="11.30" y="3.10" width="76.20" height="47.70" fill="none" stroke="#f3f3f3" stroke-width="0.8"/><line x1="19.50" x2="19.50" y1="3.10" y2="50.80" stroke="#f6f6f6" stroke-width="0.6"/><text transform="translate(19.50 54.80) scale(0.100 0.100)" font-size="30.0" text-anchor="middle">80</text><line x1="30.10" x2="30.10" y1="3.10" y2="50.80" stroke="#f6f6f6" stroke-width="0.6"/><text transform="translate(30.10 54.80) scale(0.100 0.100)" font-size="30.0" text-anchor="middle">100</text><line x1="40.60" x2="40.60" y1="3.10" y2="50.80" stroke="#f6f6f6" stroke-width="0.6"/><text transform="translate(40.60 54.80) scale(0.100 0.100)" font-size="30.0" text-anchor="middle">120</text><line x1="51.20" x2="51.20" y1="3.10" y2="50.80" stroke="#f6f6f6" stroke-width="0.6"/><text transform="translate(51.20 54.80) scale(0.100 0.100)" font-size="30.0" text-anchor="middle">140</text><line x1="61.20" x2="61.20" y1="3.10" y2="50.80" stroke="#f6f6f6" stroke-width="0.6"/><text transform="translate(61.20 54.80) scale(0.100 0.100)" font-size="30.0" text-anchor="middle">160</text><line x1="72.40" x2="72.40" y1="3.10" y2="50.80" stroke="#f6f6f6" stroke-width="0.6"/><text transform="translate(72.40 54.80) scale(0.100 0.100)" font-size="30.0" text-anchor="middle">180</text><line x1="83.50" x2="83.50" y1="3.10" y2="50.80" stroke="#f6f6f6" stroke-width="0.6"/><text transform="translate(83.50 54.80) scale(0.100 0.100)" font-size="30.0" text-anchor="middle">200</text><line x1="11.30" x2="87.50" y1="49.10" y2="49.10" stroke="#f6f6f6" stroke-width="0.6"/><text transform="translate(9.00 50.40) scale(0.062 0.100)" font-size="33.0" text-anchor="end" font-weight="bold">0.0</text><line x1="11.30" x2="87.50" y1="40.38" y2="40.38" stroke="#f6f6f6" stroke-width="0.6"/><text transform="translate(9.00 41.68) scale(0.062 0.100)" font-size="33.0" text-anchor="end" font-weight="bold">0.1</text><line x1="11.30" x2="87.50" y1="31.66" y2="31.66" stroke="#f6f6f6" stroke-width="0.6"/><text transform="translate(9.00 32.96) scale(0.062 0.100)" font-size="33.0" text-anchor="end" font-weight="bold">0.2</text><line x1="11.30" x2="87.50" y1="22.94" y2="22.94" stroke="#f6f6f6" stroke-width="0.6"/><text transform="translate(9.00 24.24) scale(0.062 0.100)" font-size="33.0" text-anchor="end" font-weight="bold">0.3</text><line x1="11.30" x2="87.50" y1="14.22" y2="14.22" stroke="#f6f6f6" stroke-width="0.6"/><text transform="translate(9.00 15.52) scale(0.062 0.100)" font-size="33.0" text-anchor="end" font-weight="bold">0.4</text><line x1="11.30" x2="87.50" y1="5.50" y2="5.50" stroke="#f6f6f6" stroke-width="0.6"/><text transform="translate(9.00 6.80) scale(0.062 0.100)" font-size="33.0" text-anchor="end" font-weight="bold">0.5</text><path d="M14.50,5.50 L41.14,5.50 L54.53,17.71 L65.11,22.50 L84.60,49.10" fill="none" stroke="#1f77b4" stroke-width="1.1" stroke-opacity="0.6" stroke-linejoin="round"/><line x1="65.70" x2="71.30" y1="8.0" y2="8.0" stroke="#1f77b4" stroke-width="1.1" stroke-opacity="0.6"/><text transform="translate(73.30 9.00) scale(0.100 0.100)" font-size="30.0" text-anchor="start">calibrated</text><text transform="translate(49.40 59.60) scale(0.100 0.100)" font-size="30.0" text-anchor="middle">thalach</text><text transform="translate(3.30 27.00) rotate(-90) scale(0.100 0.100)" font-size="30.0" text-anchor="middle">calibrated thalach</text></g></g>
<g transform="translate(1074.85 -363.00) scale(0.76667)"><g class="ct"><rect x="0.000" y="0.652" width="90.000" height="60.000" fill="#fff"/><rect x="11.30" y="3.10" width="76.20" height="47.70" fill="none" stroke="#f3f3f3" stroke-width="0.8"/><text transform="translate(9.00 52.30) scale(0.062 0.100)" font-size="33.0" text-anchor="end" font-weight="bold">0.0</text><line x1="11.30" x2="87.50" y1="41.50" y2="41.50" stroke="#f6f6f6" stroke-width="0.6"/><text transform="translate(9.00 43.00) scale(0.062 0.100)" font-size="33.0" text-anchor="end" font-weight="bold">0.1</text><line x1="11.30" x2="87.50" y1="32.20" y2="32.20" stroke="#f6f6f6" stroke-width="0.6"/><text transform="translate(9.00 33.70) scale(0.062 0.100)" font-size="33.0" text-anchor="end" font-weight="bold">0.2</text><line x1="11.30" x2="87.50" y1="22.90" y2="22.90" stroke="#f6f6f6" stroke-width="0.6"/><text transform="translate(9.00 24.40) scale(0.062 0.100)" font-size="33.0" text-anchor="end" font-weight="bold">0.3</text><line x1="11.30" x2="87.50" y1="13.60" y2="13.60" stroke="#f6f6f6" stroke-width="0.6"/><text transform="translate(9.00 15.10) scale(0.062 0.100)" font-size="33.0" text-anchor="end" font-weight="bold">0.4</text><line x1="11.30" x2="87.50" y1="4.30" y2="4.30" stroke="#f6f6f6" stroke-width="0.6"/><text transform="translate(9.00 5.80) scale(0.062 0.100)" font-size="33.0" text-anchor="end" font-weight="bold">0.5</text><text transform="translate(22.06 54.80) scale(0.100 0.100)" font-size="30.0" text-anchor="middle">normal</text><text transform="translate(40.29 54.80) scale(0.100 0.100)" font-size="30.0" text-anchor="middle">fixed</text><rect x="32.99" y="11.69" width="14.58" height="39.11" fill="#bdd4e7"/><path d="M32.99,50.80 L32.99,11.69 L47.58,11.69 L47.58,50.80" fill="none" stroke="#1f77b4" stroke-width="0.8" stroke-opacity="0.8"/><text transform="translate(58.51 54.80) scale(0.100 0.100)" font-size="30.0" text-anchor="middle">reversible</text><rect x="51.22" y="5.95" width="14.58" height="44.85" fill="#bdd4e7"/><path d="M51.22,50.80 L51.22,5.95 L65.81,5.95 L65.81,50.80" fill="none" stroke="#1f77b4" stroke-width="0.8" stroke-opacity="0.8"/><text transform="translate(76.74 54.80) scale(0.100 0.100)" font-size="30.0" text-anchor="middle">missing</text><rect x="69.45" y="36.00" width="14.58" height="14.80" fill="#fdd9b6"/><path d="M69.45,50.80 L69.45,36.00 L84.04,36.00 L84.04,50.80" fill="none" stroke="#ff7f0e" stroke-width="0.8" stroke-opacity="0.8"/><text transform="translate(49.40 59.60) scale(0.100 0.100)" font-size="30.0" text-anchor="middle">thal</text><text transform="translate(3.30 27.00) rotate(-90) scale(0.100 0.100)" font-size="30.0" text-anchor="middle">calibrated thal</text></g></g>
<g transform="translate(1161.85 -363.00) scale(0.76667)"><g class="ct"><rect x="0.000" y="0.652" width="90.000" height="60.000" fill="#fff"/><rect x="11.30" y="3.10" width="76.20" height="47.70" fill="none" stroke="#f3f3f3" stroke-width="0.8"/><text transform="translate(9.00 52.30) scale(0.062 0.100)" font-size="33.0" text-anchor="end" font-weight="bold">0.0</text><line x1="11.30" x2="87.50" y1="41.50" y2="41.50" stroke="#f6f6f6" stroke-width="0.6"/><text transform="translate(9.00 43.00) scale(0.062 0.100)" font-size="33.0" text-anchor="end" font-weight="bold">0.1</text><line x1="11.30" x2="87.50" y1="32.20" y2="32.20" stroke="#f6f6f6" stroke-width="0.6"/><text transform="translate(9.00 33.70) scale(0.062 0.100)" font-size="33.0" text-anchor="end" font-weight="bold">0.2</text><line x1="11.30" x2="87.50" y1="22.90" y2="22.90" stroke="#f6f6f6" stroke-width="0.6"/><text transform="translate(9.00 24.40) scale(0.062 0.100)" font-size="33.0" text-anchor="end" font-weight="bold">0.3</text><line x1="11.30" x2="87.50" y1="13.60" y2="13.60" stroke="#f6f6f6" stroke-width="0.6"/><text transform="translate(9.00 15.10) scale(0.062 0.100)" font-size="33.0" text-anchor="end" font-weight="bold">0.4</text><line x1="11.30" x2="87.50" y1="4.30" y2="4.30" stroke="#f6f6f6" stroke-width="0.6"/><text transform="translate(9.00 5.80) scale(0.062 0.100)" font-size="33.0" text-anchor="end" font-weight="bold">0.5</text><text transform="translate(22.06 54.80) scale(0.100 0.100)" font-size="30.0" text-anchor="middle">0</text><text transform="translate(40.29 54.80) scale(0.100 0.100)" font-size="30.0" text-anchor="middle">1</text><text transform="translate(58.51 54.80) scale(0.100 0.100)" font-size="30.0" text-anchor="middle">2</text><rect x="51.22" y="8.73" width="14.58" height="42.07" fill="#bdd4e7"/><path d="M51.22,50.80 L51.22,8.73 L65.81,8.73 L65.81,50.80" fill="none" stroke="#1f77b4" stroke-width="0.8" stroke-opacity="0.8"/><text transform="translate(76.74 54.80) scale(0.100 0.100)" font-size="30.0" text-anchor="middle">missing</text><rect x="69.45" y="5.95" width="14.58" height="44.85" fill="#fdd9b6"/><path d="M69.45,50.80 L69.45,5.95 L84.04,5.95 L84.04,50.80" fill="none" stroke="#ff7f0e" stroke-width="0.8" stroke-opacity="0.8"/><text transform="translate(49.40 59.60) scale(0.100 0.100)" font-size="30.0" text-anchor="middle">slope</text><text transform="translate(3.30 27.00) rotate(-90) scale(0.100 0.100)" font-size="30.0" text-anchor="middle">calibrated slope</text></g></g>
<g transform="translate(1248.85 -363.00) scale(0.76667)"><g class="ct"><rect x="0.000" y="0.652" width="90.000" height="60.000" fill="#fff"/><rect x="11.30" y="3.10" width="76.20" height="47.70" fill="none" stroke="#f3f3f3" stroke-width="0.8"/><text transform="translate(9.00 52.30) scale(0.062 0.100)" font-size="33.0" text-anchor="end" font-weight="bold">0.0</text><line x1="11.30" x2="87.50" y1="41.50" y2="41.50" stroke="#f6f6f6" stroke-width="0.6"/><text transform="translate(9.00 43.00) scale(0.062 0.100)" font-size="33.0" text-anchor="end" font-weight="bold">0.1</text><line x1="11.30" x2="87.50" y1="32.20" y2="32.20" stroke="#f6f6f6" stroke-width="0.6"/><text transform="translate(9.00 33.70) scale(0.062 0.100)" font-size="33.0" text-anchor="end" font-weight="bold">0.2</text><line x1="11.30" x2="87.50" y1="22.90" y2="22.90" stroke="#f6f6f6" stroke-width="0.6"/><text transform="translate(9.00 24.40) scale(0.062 0.100)" font-size="33.0" text-anchor="end" font-weight="bold">0.3</text><line x1="11.30" x2="87.50" y1="13.60" y2="13.60" stroke="#f6f6f6" stroke-width="0.6"/><text transform="translate(9.00 15.10) scale(0.062 0.100)" font-size="33.0" text-anchor="end" font-weight="bold">0.4</text><line x1="11.30" x2="87.50" y1="4.30" y2="4.30" stroke="#f6f6f6" stroke-width="0.6"/><text transform="translate(9.00 5.80) scale(0.062 0.100)" font-size="33.0" text-anchor="end" font-weight="bold">0.5</text><text transform="translate(24.66 54.80) scale(0.100 0.100)" font-size="30.0" text-anchor="middle">0</text><text transform="translate(49.40 54.80) scale(0.100 0.100)" font-size="30.0" text-anchor="middle">1</text><rect x="39.50" y="22.99" width="19.79" height="27.81" fill="#bdd4e7"/><path d="M39.50,50.80 L39.50,22.99 L59.30,22.99 L59.30,50.80" fill="none" stroke="#1f77b4" stroke-width="0.8" stroke-opacity="0.8"/><text transform="translate(74.14 54.80) scale(0.100 0.100)" font-size="30.0" text-anchor="middle">missing</text><rect x="64.24" y="5.95" width="19.79" height="44.85" fill="#fdd9b6"/><path d="M64.24,50.80 L64.24,5.95 L84.04,5.95 L84.04,50.80" fill="none" stroke="#ff7f0e" stroke-width="0.8" stroke-opacity="0.8"/><text transform="translate(49.40 59.60) scale(0.100 0.100)" font-size="30.0" text-anchor="middle">sex</text><text transform="translate(3.30 27.00) rotate(-90) scale(0.100 0.100)" font-size="30.0" text-anchor="middle">calibrated sex</text></g></g>
</g>
</svg>
</body></html>
